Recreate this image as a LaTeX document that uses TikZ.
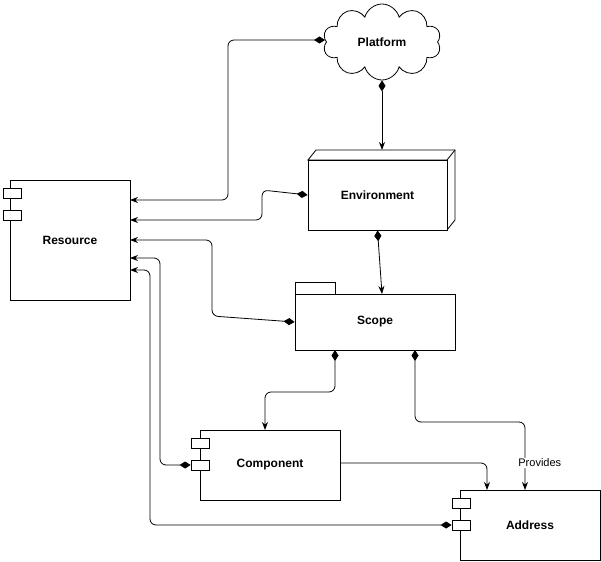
\documentclass[tikz,border=0pt]{standalone}
\usepackage{fontspec}
\setmainfont{Liberation Sans}
\usetikzlibrary{shapes.symbols,arrows.meta}
\begin{document}
\begin{tikzpicture}[x=1pt,y=-1pt,
  box/.style={draw,fill=white,line width=0.8pt,font=\bfseries\fontsize{12}{14}\selectfont},
  port/.style={draw,fill=white,line width=0.8pt,minimum width=18pt,minimum height=10pt,inner sep=0pt},
  link/.style={line width=0.8pt,rounded corners=6pt,{Diamond[length=11pt,width=7pt]}-{Stealth[length=8pt,width=6pt]}}]
\useasboundingbox (0,0) rectangle (601,561);
% Platform
\node[box,cloud,cloud puffs=10,aspect=1.8,minimum width=118pt,minimum height=76pt,inner sep=0pt] (plat) at (382,42) {Platform};
% Environment cube
\draw[line width=0.8pt,fill=white] (308,160) -- (316,150) -- (455,150) -- (455,220) -- (447,230) -- (447,160) -- cycle;
\draw[line width=0.8pt] (447,160) -- (455,150);
\node[box,minimum width=139pt,minimum height=70pt,inner sep=0pt] (env) at (377.5,195) {Environment};
% Resource
\node[box,minimum width=120pt,minimum height=120pt,inner sep=0pt] (res) at (70,240) {Resource};
\node[port] (rp1) at (12,193) {};
\node[port] (rp2) at (12,215) {};
% Scope
\node[draw,fill=white,line width=0.8pt,minimum width=40pt,minimum height=12pt,inner sep=0pt] (tab) at (315,288) {};
\node[box,minimum width=160pt,minimum height=56pt,inner sep=0pt] (scope) at (375,322) {Scope};
% Component
\node[box,minimum width=140pt,minimum height=70pt,inner sep=0pt] (comp) at (270,465) {Component};
\node[port] (cp1) at (200,443) {};
\node[port] (cp2) at (200,465) {};
% Address
\node[box,minimum width=140pt,minimum height=70pt,inner sep=0pt] (addr) at (530,525) {Address};
\node[port] (ap1) at (461,503) {};
\node[port] (ap2) at (461,525) {};
% connectors
\coordinate (p1) at (325,40);
\draw[link] (p1) -- (228,40) -- (228,200) -- (130,200);
\draw[link] (plat.south) -- (382,150);
\draw[link] (env.west) -- (262,190) -- (262,220) -- (130,220);
\draw[link] (env.south) -- (382,294);
\draw[link] (scope.west) -- (212,316) -- (212,240) -- (130,240);
\draw[link] (335,350) -- (335,392) -- (265,392) -- (265,430);
\draw[link] (415,350) -- (415,422) -- (525,422) -- (525,490);
\draw[link] (cp2.west) -- (160,465) -- (160,258) -- (130,258);
\draw[link] (ap2.west) -- (150,525) -- (150,270) -- (130,270);
\draw[line width=0.8pt,rounded corners=6pt,-{Stealth[length=8pt,width=6pt]}] (comp.east |- 0,463) -- (487,463) -- (487,490)
  node[pos=0,right=30pt,fill=white,inner sep=1pt,font=\fontsize{11}{13}\selectfont] (prov) {Provides};
\end{tikzpicture}
\end{document}
